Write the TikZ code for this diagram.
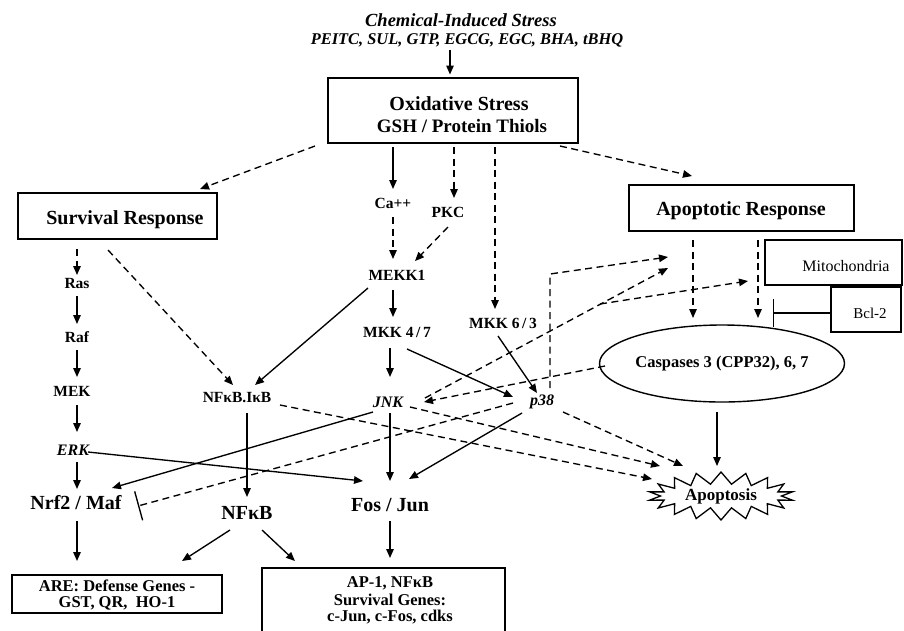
\documentclass[tikz,border=0pt]{standalone}
\usepackage{fontspec}
\setmainfont{Liberation Serif}
\usetikzlibrary{arrows.meta,shapes.geometric,shapes.symbols}
\begin{document}
\begin{tikzpicture}[x=1pt,y=-1pt,
  every node/.style={inner sep=0pt,outer sep=0pt},
  lbl/.style={font=\fontsize{15.5}{17}\selectfont\bfseries},
  big/.style={font=\fontsize{20}{22}\selectfont\bfseries},
  mid/.style={font=\fontsize{16.5}{18}\selectfont\bfseries},
  ital/.style={font=\fontsize{16}{18}\selectfont\bfseries\itshape},
  reg/.style={font=\fontsize{16}{18}\selectfont},
  boxn/.style={draw,line width=1.5pt},
  arr/.style={-{Triangle[length=9pt,width=7.5pt]},line width=1.35pt},
  darr/.style={arr,dash pattern=on 7pt off 4.5pt},
  inh/.style={-{Bar[width=30pt,line width=1.35pt]},line width=1.35pt},
  dinh/.style={inh,dash pattern=on 7pt off 4.5pt}
]
\useasboundingbox (0,0) rectangle (904,630);

% ---- top
\node[font=\fontsize{18.5}{20}\selectfont\bfseries\itshape] (chem1) at (461,20) {Chemical-Induced Stress};
\node[font=\fontsize{16.4}{18}\selectfont\bfseries\itshape] (chem2) at (467,40) {PEITC, SUL, GTP, EGCG, EGC, BHA, tBHQ};
\node[boxn,minimum width=250pt,minimum height=65pt] (ox) at (453,110.5) {};
\node[big] (oxt1) at (459,104) {Oxidative Stress};
\node[big,font=\fontsize{19}{21}\selectfont\bfseries] (oxt2) at (462,126) {GSH / Protein Thiols};

% ---- response boxes
\node[boxn,minimum width=199pt,minimum height=46pt] (surv) at (117.5,216) {};
\node[big] (survt) at (125,220) {Survival Response};
\node[boxn,minimum width=225pt,minimum height=46pt] (apo) at (741.5,208) {};
\node[big] (apot) at (741,211) {Apoptotic Response};

% ---- middle labels
\node[lbl] (ca) at (393,203) {Ca++};
\node[lbl] (pkc) at (448,212) {PKC};
\node[lbl] (mekk1) at (397,275) {MEKK1};
\node[lbl] (mkk47) at (397,332) {MKK 4\,/\,7};
\node[lbl] (mkk63) at (503,323) {MKK 6\,/\,3};
\node[ital] (jnk) at (388,402) {JNK};
\node[ital] (p38) at (542,402) {p38};
\node[big] (fosjun) at (390,505) {Fos / Jun};
\node[lbl] (nfkbikb) at (237,398) {NFκB.IκB};
\node[big] (nfkb) at (247,513) {NFκB};

% ---- left column
\node[lbl] (ras) at (77,283) {Ras};
\node[lbl] (raf) at (77,337) {Raf};
\node[lbl] (mek) at (72,391) {MEK};
\node[ital] (erk) at (73,450) {ERK};
\node[big] (nrf2) at (76,503) {Nrf2 / Maf};

% ---- bottom boxes
\node[boxn,minimum width=210pt,minimum height=38pt] (are) at (117,594) {};
\node[mid] (aret1) at (117,586) {ARE: Defense Genes -};
\node[mid] (aret2) at (117,603) {GST, QR,\ \ HO-1};
\node[boxn,minimum width=243pt,minimum height=80pt] (ap1) at (383.5,608) {};
\node[mid] (ap1t1) at (390,583) {AP-1, NFκB};
\node[mid] (ap1t2) at (390,600) {Survival Genes:};
\node[mid] (ap1t3) at (390,617) {c-Jun, c-Fos, cdks};

% ---- right side
\node[ellipse,draw,line width=1.4pt,minimum width=210pt,minimum height=77pt,
      font=\fontsize{16.5}{18}\selectfont\bfseries] (casp) at (722,363.5) {Caspases 3 (CPP32), 6, 7};
\node[starburst,draw,line width=1.3pt,starburst points=18,starburst point height=12pt,
      random starburst=0,minimum width=145pt,minimum height=48pt,
      font=\fontsize{17}{19}\selectfont\bfseries] (apop) at (721,496) {Apoptosis};
\node[boxn,minimum width=137pt,minimum height=45pt] (mito) at (833.5,262.5) {};
\node[reg] (mitot) at (846,266) {Mitochondria};
\node[boxn,minimum width=70pt,minimum height=45pt] (bcl) at (866,309.5) {};
\node[reg,font=\fontsize{15}{17}\selectfont] (bclt) at (870,313) {Bcl-2};

% ---- connectors
\draw[arr] ([shift={(-17,10)}]chem2.center) -- ([shift={(-3,-36)}]ox.center);
\draw[darr] ([shift={(-138,35.5)}]ox.center) -- ([shift={(82.5,-27)}]surv.center);
\draw[darr] ([shift={(107,35.5)}]ox.center) -- ([shift={(-49.5,-32)}]apo.center);
\draw[arr] ([shift={(-60,36.5)}]ox.center) -- ([shift={(0,-14)}]ca.center);
\draw[darr] ([shift={(1,36.5)}]ox.center) -- ([shift={(6,-14)}]pkc.center);
\draw[darr] ([shift={(42,36.5)}]ox.center) -- ([shift={(-8,-14)}]mkk63.center);
\draw[darr] ([shift={(0,14)}]ca.center) -- ([shift={(-4,-16)}]mekk1.center);
\draw[darr] ([shift={(0,15)}]pkc.center) -- ([shift={(18,-14)}]mekk1.center);
\draw[arr] ([shift={(-4,15)}]mekk1.center) -- ([shift={(-4,-15)}]mkk47.center);
\draw[arr] ([shift={(-29,13)}]mekk1.center) -- ([shift={(18,-13)}]nfkbikb.center);
\draw[darr] ([shift={(-9.5,34)}]surv.center) -- ([shift={(-4,-13)}]nfkbikb.center);
\draw[darr] ([shift={(-40.5,33)}]surv.center) -- ([shift={(0,-8)}]ras.center);
\draw[arr] ([shift={(0,13)}]ras.center) -- ([shift={(0,-13)}]raf.center);
\draw[arr] ([shift={(0,13)}]raf.center) -- ([shift={(5,-14)}]mek.center);
\draw[arr] ([shift={(5,14)}]mek.center) -- ([shift={(4,-18)}]erk.center);
\draw[arr] ([shift={(4,12)}]erk.center) -- ([shift={(1,-14)}]nrf2.center);
\draw[arr] ([shift={(1,18)}]nrf2.center) -- ([shift={(-40,-33)}]are.center);
\draw[arr] ([shift={(15,2)}]erk.center) -- ([shift={(-27,-24)}]fosjun.center);
\draw[arr] ([shift={(10,15)}]nfkbikb.center) -- ([shift={(0,-16)}]nfkb.center);
\draw[arr] ([shift={(-17,17)}]nfkb.center) -- ([shift={(65,-33)}]are.center);
\draw[arr] ([shift={(15,17)}]nfkb.center) -- ([shift={(-88.5,-47)}]ap1.center);
\draw[arr] ([shift={(0,16)}]fosjun.center) -- ([shift={(6.5,-50)}]ap1.center);
\draw[arr] ([shift={(-7,16)}]mkk47.center) -- ([shift={(2,-25)}]jnk.center);
\draw[arr] ([shift={(10,17)}]mkk47.center) -- ([shift={(-29,-5)}]p38.center);
\draw[arr] ([shift={(-5,13)}]mkk63.center) -- ([shift={(-5,-9)}]p38.center);
\draw[arr] ([shift={(2,11)}]jnk.center) -- ([shift={(0,-24)}]fosjun.center);
\draw[arr] ([shift={(-20,11)}]p38.center) -- ([shift={(19,-26)}]fosjun.center);
\draw[arr] ([shift={(-15,10)}]jnk.center) -- ([shift={(36,-15)}]nrf2.center);
\draw[darr] ([shift={(-117,2.5)}]casp.center) -- ([shift={(36,0)}]jnk.center);
\draw[darr] ([shift={(22,5)}]jnk.center) -- ([shift={(-61,-30)}]apop.center);
\draw[darr] ([shift={(43,7)}]nfkbikb.center) -- ([shift={(-69,-17)}]apop.center);
\draw[darr] ([shift={(21,10)}]p38.center) -- ([shift={(-38,-30)}]apop.center);
\draw[dinh] ([shift={(-29,1)}]p38.center) -- ([shift={(62,3)}]nrf2.center);
\draw[darr] ([shift={(8,-14)}]p38.center) -- ++(0,-114) -- ([shift={(-73.5,49)}]apo.center);
\draw[darr] ([shift={(37,-4)}]jnk.center) -- ([shift={(-73.5,60)}]apo.center);
\coordinate (br) at (600,304);
\draw[darr] (br) -- ([shift={(-85.5,18.5)}]mito.center);
\draw[darr] ([shift={(-48.5,32)}]apo.center) -- ([shift={(-29,-45.5)}]casp.center);
\draw[darr] ([shift={(16.5,32)}]apo.center) -- ([shift={(36,-45.5)}]casp.center);
\draw[-{Bar[width=28pt,line width=1.35pt]},line width=1.35pt] ([shift={(0,3.5)}]bcl.west) -- ([shift={(-93,3.5)}]bcl.center);
\draw[arr] ([shift={(-5,48.5)}]casp.center) -- ([shift={(-4,-30)}]apop.center);
\end{tikzpicture}
\end{document}
